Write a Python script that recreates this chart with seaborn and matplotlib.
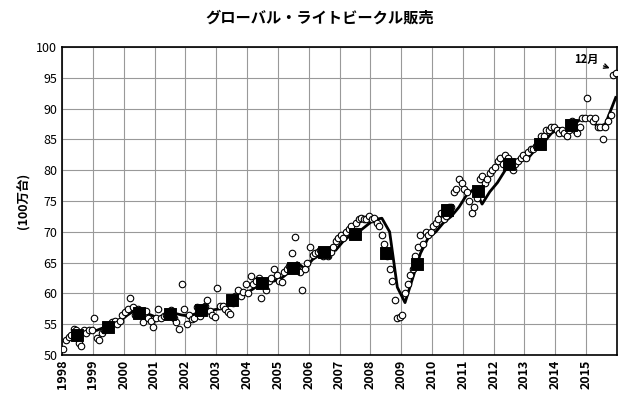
import numpy as np
import pandas as pd
import matplotlib
matplotlib.use('Agg')
import matplotlib.pyplot as plt
import seaborn as sns

plt.rcParams['font.family'] = 'Noto Sans CJK JP'

years = list(range(1998, 2016))

# 月次販売 (年率換算, 100万台)
monthly = [
    51.0, 52.5, 53.0, 53.2, 54.2, 54.0, 52.0, 51.5, 54.0, 53.5, 54.0, 54.0,
    56.0, 52.8, 52.5, 53.5, 54.0, 54.5, 55.0, 55.3, 55.5, 55.0, 55.5, 56.5,
    57.0, 57.5, 59.2, 57.8, 56.5, 57.5, 56.8, 55.3, 57.2, 56.0, 55.5, 54.5,
    56.0, 57.5, 56.0, 56.3, 56.5, 57.0, 57.3, 56.0, 55.3, 54.2, 61.5, 57.5,
    55.0, 56.5, 55.8, 56.0, 57.8, 56.3, 57.0, 58.0, 59.0, 57.2, 56.5, 56.2,
    60.8, 58.0, 58.0, 57.5, 57.0, 56.7, 58.5, 59.5, 60.5, 59.5, 60.2, 61.5,
    60.0, 62.8, 61.5, 62.0, 62.5, 59.2, 61.5, 60.5, 62.0, 62.5, 64.0, 63.0,
    62.0, 61.8, 63.5, 64.0, 64.5, 66.5, 69.2, 64.0, 63.5, 60.5, 64.0, 65.0,
    67.5, 66.3, 66.5, 66.8, 67.0, 66.0, 66.5, 66.0, 66.8, 67.5, 68.5, 69.0,
    69.5, 69.0, 70.0, 70.5, 71.0, 69.5, 71.5, 72.0, 72.2, 72.0, 72.0, 72.5,
    72.0, 72.2, 71.5, 71.0, 69.5, 68.0, 66.0, 64.0, 62.0, 59.0, 56.0, 56.2,
    56.5, 60.0, 61.5, 63.0, 64.0, 66.0, 67.5, 69.5, 68.0, 70.0, 69.5, 70.0,
    71.0, 71.5, 72.0, 73.0, 72.0, 72.5, 74.0, 74.0, 76.5, 77.0, 78.5, 78.0,
    77.0, 76.5, 75.0, 73.0, 74.0, 75.5, 78.5, 79.0, 78.0, 78.5, 79.5, 80.0,
    80.5, 81.5, 82.0, 81.0, 82.5, 82.0, 80.5, 80.0, 81.0, 81.5, 82.0, 82.5,
    82.0, 83.0, 83.5, 83.5, 84.0, 84.5, 85.5, 85.5, 86.5, 86.5, 87.0, 87.0,
    86.5, 86.0, 86.5, 86.0, 85.5, 86.5, 88.0, 86.5, 86.0, 87.0, 88.5, 88.5,
    91.8, 88.5, 88.0, 88.5, 87.0, 87.0, 85.0, 87.0, 88.0, 89.0, 95.5, 95.8,
]

# 四半期トレンド
trend = [
    52.5, 53.3, 53.5, 54.0,
    54.0, 54.5, 55.0, 55.5,
    56.5, 57.3, 57.0, 56.5,
    56.0, 56.3, 56.8, 56.5,
    56.3, 56.8, 57.5, 57.3,
    57.5, 58.0, 59.0, 59.8,
    60.5, 61.3, 61.8, 62.0,
    62.5, 63.5, 65.0, 64.0,
    65.5, 66.3, 67.0, 67.0,
    68.5, 69.5, 70.0, 71.0,
    72.0, 72.2, 70.0, 61.0,
    58.5, 62.5, 66.5, 69.0,
    70.0, 71.5, 72.5, 74.0,
    76.0, 77.0, 74.5, 76.5,
    78.0, 80.0, 81.0, 81.5,
    82.0, 83.5, 84.5, 86.0,
    86.8, 86.5, 87.5, 88.5,
    88.5, 87.0, 87.5, 91.8,
]

# 年間販売
annual_years = list(range(1998, 2015))
annual = [53.3, 54.6, 56.8, 56.6, 57.3, 59.0, 61.7, 64.1, 66.8, 69.7,
          66.5, 64.7, 73.5, 76.7, 81.0, 84.3, 87.3]

df_m = pd.DataFrame({'t': [y + (m + 0.5) / 12 for y in years for m in range(12)],
                     'v': monthly})
t_q = [y + (q + 0.5) / 4 for y in years for q in range(4)]
t_q[-1] = 2015.96
df_q = pd.DataFrame({'t': t_q, 'v': trend})
df_a = pd.DataFrame({'t': [y + 0.5 for y in annual_years], 'v': annual})

fig = plt.figure(figsize=(6.4, 4), dpi=100)
ax = fig.add_axes([0.097, 0.1125, 0.867, 0.77])

sns.lineplot(data=df_q, x='t', y='v', color='black', lw=2, ax=ax, zorder=3)
sns.scatterplot(data=df_m, x='t', y='v', marker='o', s=22, facecolor='white',
                edgecolor='black', linewidth=0.8, ax=ax, zorder=4)
sns.scatterplot(data=df_a, x='t', y='v', marker='s', s=70, color='black',
                edgecolor='black', ax=ax, zorder=5)

ax.set_xlim(1998, 2016)
ax.set_ylim(50, 100)
ax.set_xticks(years)
ax.set_xticklabels([str(y) for y in years], rotation=90, fontsize=9, fontweight='bold')
ax.set_yticks(range(50, 101, 5))
ax.tick_params(axis='y', labelsize=9, length=0)
ax.tick_params(axis='x', length=0)
ax.grid(True, color='#999999', lw=0.8)
ax.set_axisbelow(True)
for s in ax.spines.values():
    s.set_color('black')
    s.set_linewidth(1.2)
ax.set_xlabel('')
ax.set_ylabel('(100万台)', fontsize=9, fontweight='bold')

ax.annotate('12月', xy=(2015.85, 96.4), xytext=(2014.6, 98),
            fontsize=8, fontweight='bold', va='center',
            arrowprops=dict(arrowstyle='->', color='black', lw=1))

fig.suptitle('グローバル・ライトビークル販売', fontsize=11, fontweight='bold', y=0.975)
fig.savefig('out.png', dpi=100)
